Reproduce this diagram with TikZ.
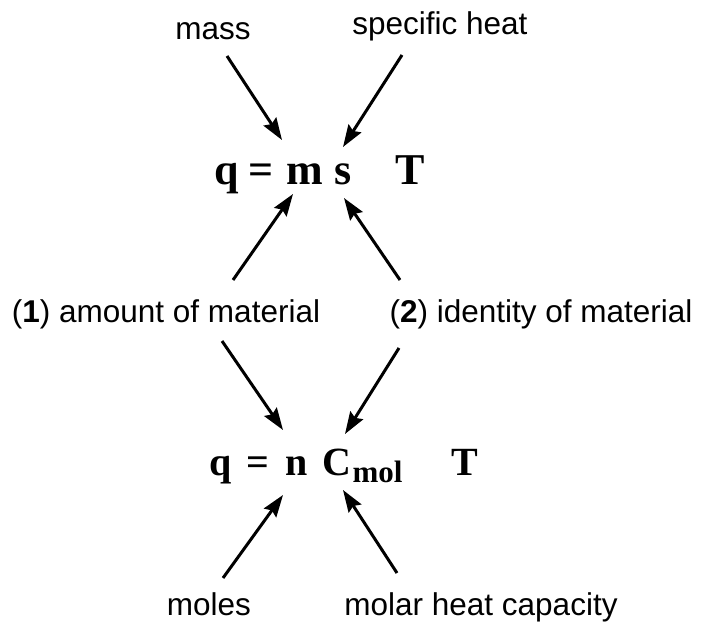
\documentclass[tikz,border=0pt]{standalone}
\usepackage{fontspec}
\setmainfont{Liberation Serif}
\setsansfont{Liberation Sans}
\usepackage{tikz}
\usetikzlibrary{arrows.meta}

\tikzset{
  lbl/.style={anchor=base,inner sep=0pt,font=\sffamily\fontsize{31.5}{36}\selectfont},
  eqa/.style={anchor=base,inner sep=0pt,font=\bfseries\fontsize{44}{50}\selectfont},
  eqb/.style={anchor=base,inner sep=0pt,font=\bfseries\fontsize{40}{46}\selectfont},
  sub/.style={anchor=base,inner sep=0pt,font=\bfseries\fontsize{31}{36}\selectfont},
  arr/.style={line width=3pt,-{Stealth[length=22pt,width=15pt,inset=3pt]}}
}

\begin{document}
\begin{tikzpicture}[x=1pt,y=-1pt]
  \useasboundingbox (0,0) rectangle (702,623);
  % labels
  \node[lbl] (mass) at (213,40) {mass};
  \node[lbl] (spheat) at (440,35) {specific heat};
  \node[lbl] (amount) at (166,322) {(\textbf{1}) amount of material};
  \node[lbl] (ident) at (541,322) {(\textbf{2}) identity of material};
  \node[lbl] (moles) at (209,615) {moles};
  \node[lbl] (molcap) at (481,615) {molar heat capacity};
  % q = m s T
  \node[eqa] (qa) at (226.5,185) {q};
  \node[eqa] (eqsa) at (261,185) {=};
  \node[eqa] (m) at (304.5,185) {m};
  \node[eqa] (s) at (343.5,185) {s};
  \node[eqa] (Ta) at (410,185) {T};
  % q = n Cmol T
  \node[eqb] (qb) at (221,475) {q};
  \node[eqb] (eqsb) at (257.5,475) {=};
  \node[eqb] (n) at (296.5,475) {n};
  \node[eqb] (C) at (336.5,475) {C};
  \node[sub] (mol) at (377.5,482) {mol};
  \node[eqb] (Tb) at (465,475) {T};
  % arrow ends
  \coordinate (massT) at (227,56);   \coordinate (mUp) at (282,140);
  \coordinate (sphT) at (402,55);    \coordinate (sUp) at (343,147);
  \coordinate (amtA) at (233,280);   \coordinate (mDn) at (293,194);
  \coordinate (idA) at (400,280);    \coordinate (sDn) at (344,198);
  \coordinate (amtB) at (222,341);   \coordinate (nUp) at (283,430);
  \coordinate (idB) at (399,348);    \coordinate (CUp) at (345,434);
  \coordinate (molesT) at (223,578); \coordinate (nDn) at (283,495);
  \coordinate (capT) at (397,573);   \coordinate (CDn) at (343,490);
  \draw[arr] (massT) -- (mUp);
  \draw[arr] (sphT) -- (sUp);
  \draw[arr] (amtA) -- (mDn);
  \draw[arr] (idA) -- (sDn);
  \draw[arr] (amtB) -- (nUp);
  \draw[arr] (idB) -- (CUp);
  \draw[arr] (molesT) -- (nDn);
  \draw[arr] (capT) -- (CDn);
\end{tikzpicture}
\end{document}
